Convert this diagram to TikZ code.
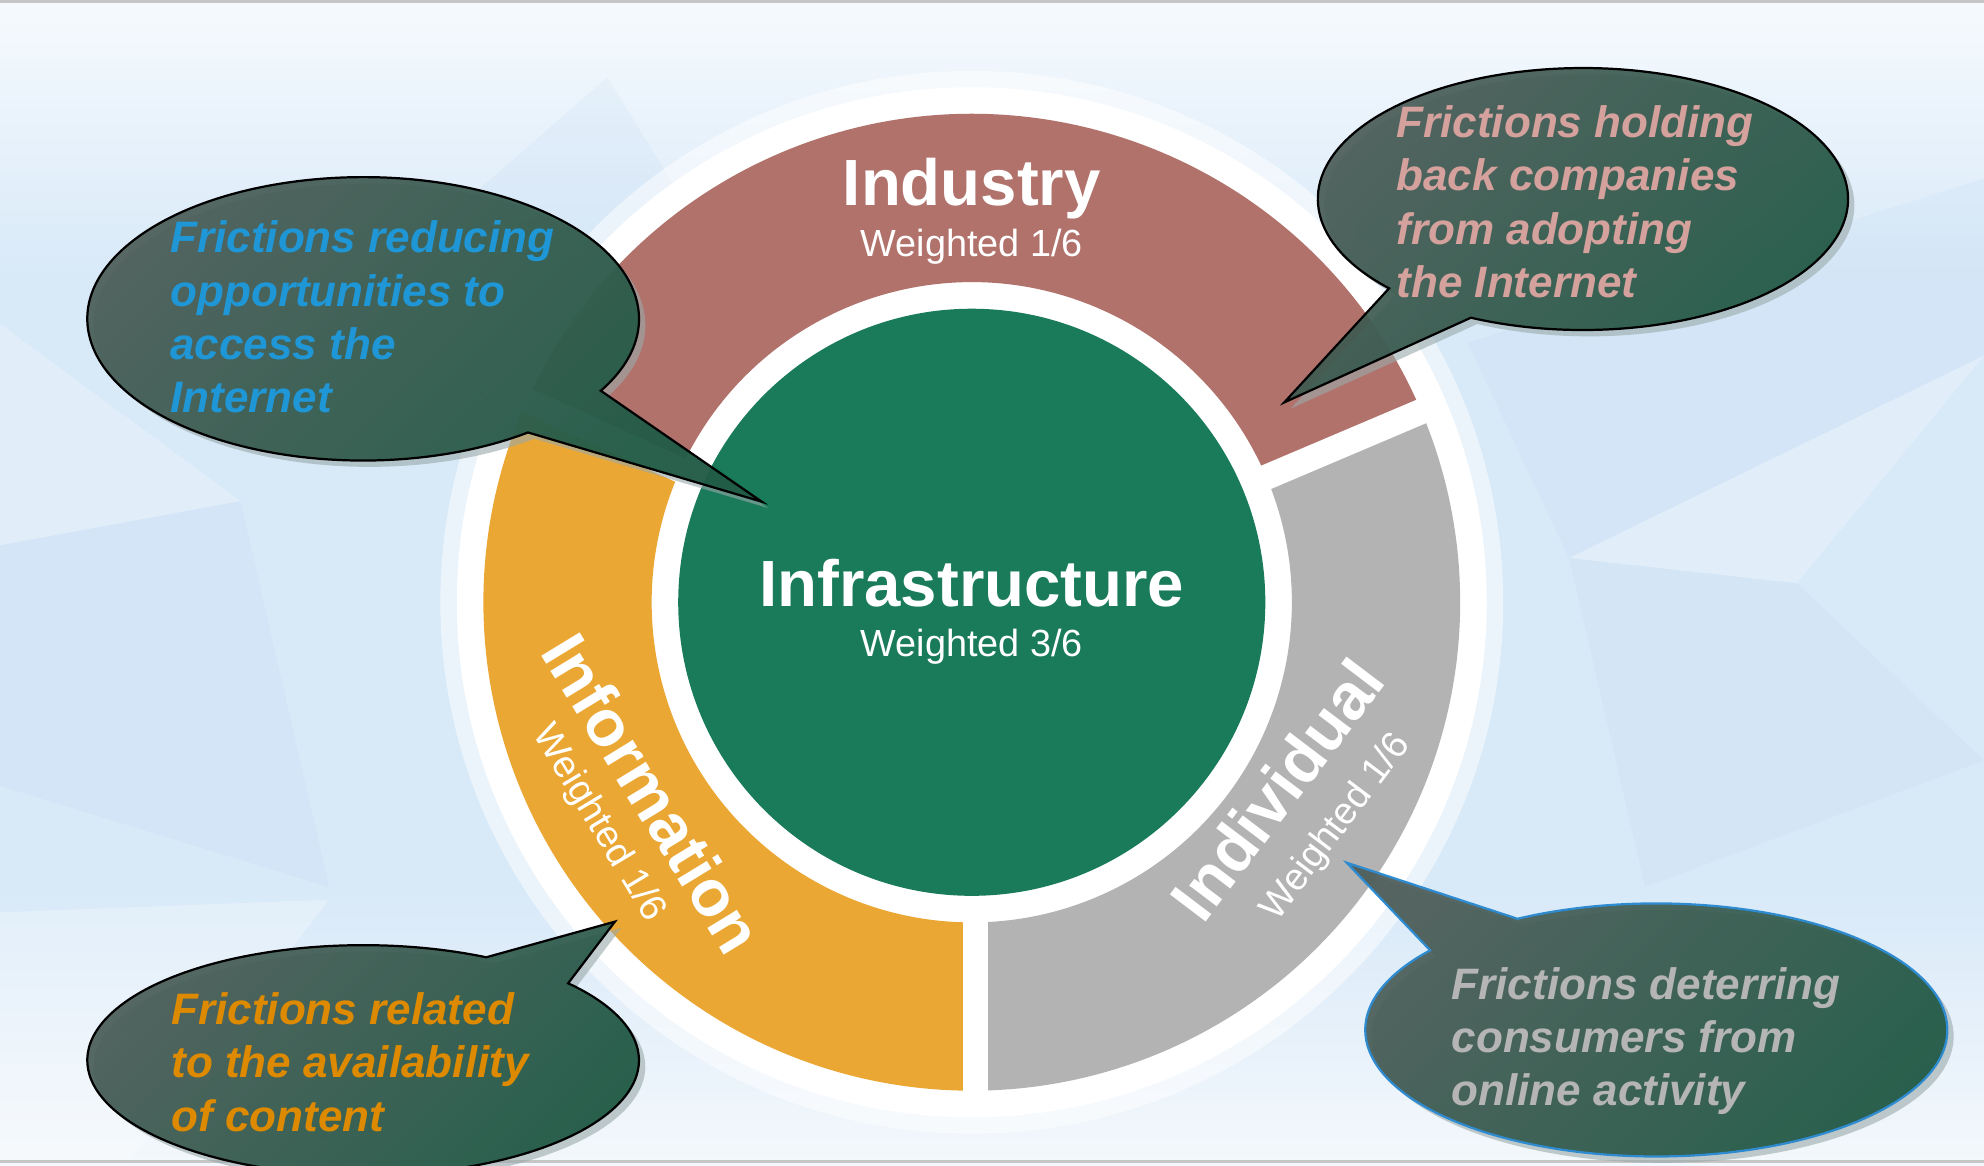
\documentclass[tikz,border=0pt]{standalone}
\usepackage{fontspec}
\setmainfont{Liberation Sans}

\definecolor{indred}{HTML}{B1726C}
\definecolor{infoorange}{HTML}{EBA733}
\definecolor{indivgray}{HTML}{B3B3B3}
\definecolor{infragreen}{HTML}{197B5A}
\definecolor{bubbletop}{HTML}{4C5C58}
\definecolor{bubblebot}{HTML}{1C5842}
\definecolor{bshadowgray}{HTML}{9AA9AA}
\definecolor{txtblue}{HTML}{1F96D6}
\definecolor{txtpink}{HTML}{D4A19D}
\definecolor{txtorange}{HTML}{DE8A00}
\definecolor{txtgray}{HTML}{B5B5B5}
\definecolor{bgtop}{HTML}{F6FAFE}
\definecolor{bgmid}{HTML}{D8E9F8}
\definecolor{bgbot}{HTML}{F4F8FC}
\definecolor{bgpoly}{HTML}{B9D4EE}
\definecolor{outlineblue}{HTML}{2E8BD0}

\begin{document}
\begin{tikzpicture}[seg/.style={fill=#1},
    gap/.style={white, line width=2mm},
    bubble/.style={draw=#1, line width=0.5pt, fill opacity=0.92, top color=bubbletop, bottom color=bubblebot, shading angle=45},
    bshadow/.style={fill=bshadowgray, fill opacity=0.6, transform canvas={shift={(0.05,-0.05)}}},
    title/.style={white, font=\fontsize{14.7}{17}\selectfont\bfseries},
    weight/.style={white, font=\fontsize{8.5}{10}\selectfont},
    friction/.style={text=#1, align=left, anchor=north west, inner sep=0pt, font=\fontsize{9.9}{11.95}\selectfont\bfseries\itshape}]

    \useasboundingbox (0,0) rectangle (15.68,9.21);
    \clip (0,0) rectangle (15.68,9.21);

    % background
    \fill[bgmid] (0,0) rectangle (15.68,9.21);
    \shade[top color=bgtop, bottom color=bgmid] (0,7.0) rectangle (15.68,9.21);
    \shade[top color=bgmid, bottom color=bgbot] (0,0) rectangle (15.68,2.2);
    \fill[white, opacity=0.25] (0,6.65) -- (1.9,5.25) -- (0,4.9) -- cycle;
    \fill[bgpoly, opacity=0.15] (1.9,5.25) -- (2.6,2.2) -- (0,3.0) -- (0,4.9) -- cycle;
    \fill[white, opacity=0.25] (0,2.0) -- (2.6,2.1) -- (1.0,0) -- (0,0) -- cycle;
    \fill[bgpoly, opacity=0.15] (4.8,8.6) -- (5.6,7.3) -- (3.2,7.2) -- cycle;
    \fill[bgpoly, opacity=0.15] (11.6,6.5) -- (12.4,4.8) -- (15.68,6.4) -- (15.68,7.8) -- cycle;
    \fill[white, opacity=0.25] (12.4,4.8) -- (14.2,4.6) -- (15.68,6.4) -- cycle;
    \fill[bgpoly, opacity=0.12] (12.4,4.8) -- (13.0,2.2) -- (15.68,3.2) -- (14.2,4.6) -- cycle;
    \draw[gray!45, line width=0.8pt] (0,9.2) -- (15.68,9.2);
    \draw[gray!45, line width=0.8pt] (0,0.03) -- (15.68,0.03);

    % the wheel
    \begin{scope}[shift={(7.68,4.45)}]
        \fill[white, opacity=0.5] (0,0) circle[radius=4.2];
        \fill[white] (0,0) circle[radius=4.07];
        \fill[seg=indred] (23:3.86) arc[start angle=23, end angle=155.6, radius=3.86] -- (155.6:2.53) arc[start angle=155.6, end angle=23, radius=2.53] -- cycle;
        \fill[seg=infoorange] (155.6:3.86) arc[start angle=155.6, end angle=270, radius=3.86] -- (270:2.53) arc[start angle=270, end angle=155.6, radius=2.53] -- cycle;
        \fill[seg=indivgray] (270:3.86) arc[start angle=270, end angle=383, radius=3.86] -- (383:2.53) arc[start angle=383, end angle=270, radius=2.53] -- cycle;
        \draw[gap] (0,0) -- (23:3.95);
        \draw[gap] (0,0) -- (155.6:3.95);
        \draw[gap] (0.03,0) -- (0.03,-3.95);
        \fill[infragreen] (0,0) circle[radius=2.32];
    \end{scope}

    \node[title, anchor=base] (industry) at (7.68,7.582) {Industry};
    \node[weight, anchor=base] (industryw) at (7.68,7.181) {Weighted 1/6};
    \node[title, anchor=base] (infra) at (7.68,4.42) {Infrastructure};
    \node[weight, anchor=base] (infraw) at (7.68,4.02) {Weighted 3/6};
    \node[title, rotate=-58.6] (information) at (5.16,2.94) {Information};
    \node[weight, rotate=-59] (informationw) at (4.73,2.70) {Weighted 1/6};
    \node[title, rotate=52.8] (individual) at (10.09,2.97) {Individual};
    \node[weight, rotate=53] (individualw) at (10.56,2.67) {Weighted 1/6};

    % callouts
    \coordinate (cA) at (2.87,6.69);
    \coordinate (tipA) at (6.02,5.245);
    \fill[bshadow] (cA) ++(-30.5:2.18 and 1.12) arc[start angle=-30.5, end angle=306.7, x radius=2.18, y radius=1.12] -- (tipA) -- cycle;
    \path[bubble=black] (cA) ++(-30.5:2.18 and 1.12) arc[start angle=-30.5, end angle=306.7, x radius=2.18, y radius=1.12] -- (tipA) -- cycle;
    \node[friction=txtblue] (access) at (1.34,7.47) {Frictions reducing\\opportunities to\\access the\\Internet};

    \coordinate (cB) at (12.51,7.637);
    \coordinate (tipB) at (10.15,6.03);
    \fill[bshadow] (cB) ++(245:2.095 and 1.035) arc[start angle=245, end angle=583, x radius=2.095, y radius=1.035] -- (tipB) -- cycle;
    \path[bubble=black] (cB) ++(245:2.095 and 1.035) arc[start angle=245, end angle=583, x radius=2.095, y radius=1.035] -- (tipB) -- cycle;
    \node[friction=txtpink] (companies) at (11.03,8.38) {Frictions holding\\back companies\\from adopting\\the Internet};

    \coordinate (cC) at (2.87,0.83);
    \coordinate (tipC) at (4.86,1.926);
    \fill[bshadow] (cC) ++(63.5:2.18 and 0.91) arc[start angle=63.5, end angle=402, x radius=2.18, y radius=0.91] -- (tipC) -- cycle;
    \path[bubble=black] (cC) ++(63.5:2.18 and 0.91) arc[start angle=63.5, end angle=402, x radius=2.18, y radius=0.91] -- (tipC) -- cycle;
    \node[friction=txtorange] (content) at (1.348,1.37) {Frictions related\\to the availability\\of content};

    \coordinate (cD) at (13.09,1.07);
    \coordinate (tipD) at (10.643,2.392);
    \fill[bshadow] (cD) ++(141:2.30 and 1.0) arc[start angle=141, end angle=478.5, x radius=2.30, y radius=1.0] -- (tipD) -- cycle;
    \path[bubble=outlineblue] (cD) ++(141:2.30 and 1.0) arc[start angle=141, end angle=478.5, x radius=2.30, y radius=1.0] -- (tipD) -- cycle;
    \node[friction=txtgray] (consumers) at (11.466,1.57) {Frictions deterring\\consumers from\\online activity};
\end{tikzpicture}
\end{document}
